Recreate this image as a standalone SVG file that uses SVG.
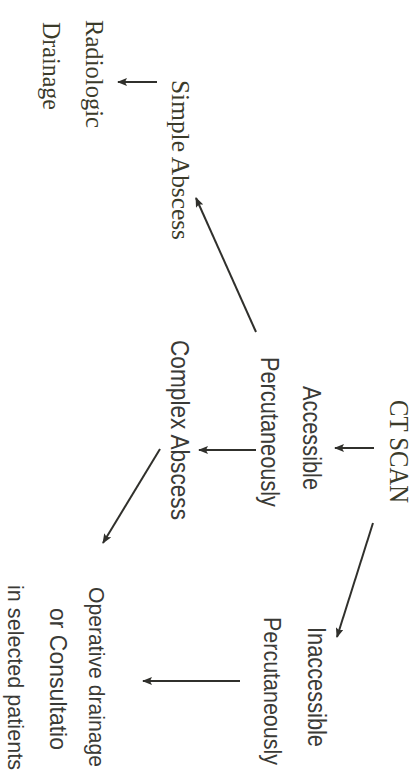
<svg xmlns="http://www.w3.org/2000/svg" width="417" height="779" viewBox="0 0 417 779">
<style>
.serif{font-family:"Liberation Serif","Times New Roman",serif;fill:#3b3b2a;}
.sans{font-family:"Liberation Sans Narrow","Liberation Sans",Arial,sans-serif;fill:#3a3a36;}
.conn line{stroke:#30302c;stroke-width:2;marker-end:url(#ah);}
</style>
<defs>
<marker id="ah" viewBox="0 0 10 8" refX="9" refY="4" markerWidth="5" markerHeight="4" markerUnits="strokeWidth" orient="auto">
<path d="M0,0 L10,4 L0,8 L2,4 Z" fill="#30302c"/>
</marker>
</defs>
<rect width="417" height="779" fill="#ffffff"/>
<g id="ctscan"><text class="serif" font-size="28" textLength="103" lengthAdjust="spacingAndGlyphs" transform="translate(390,400) rotate(90)">CT SCAN</text></g>
<g id="accessible"><text class="sans" font-size="26" textLength="104" lengthAdjust="spacingAndGlyphs" transform="translate(303,386) rotate(90)">Accessible</text></g>
<g id="percutaneously1"><text class="sans" font-size="26" textLength="150" lengthAdjust="spacingAndGlyphs" transform="translate(261,357) rotate(90)">Percutaneously</text></g>
<g id="complex"><text class="sans" font-size="25" textLength="180" lengthAdjust="spacingAndGlyphs" transform="translate(171,340) rotate(90)">Complex Abscess</text></g>
<g id="simple"><text class="serif" font-size="25" textLength="160" lengthAdjust="spacingAndGlyphs" transform="translate(172,80) rotate(90)">Simple Abscess</text></g>
<g id="radiologic"><text class="serif" font-size="26" textLength="108" lengthAdjust="spacingAndGlyphs" transform="translate(86,20) rotate(90)">Radiologic</text><text class="serif" font-size="26" textLength="88" lengthAdjust="spacingAndGlyphs" transform="translate(43,22) rotate(90)">Drainage</text></g>
<g id="inaccessible"><text class="sans" font-size="25" textLength="120" lengthAdjust="spacingAndGlyphs" transform="translate(308,627) rotate(90)">Inaccessible</text></g>
<g id="percutaneously2"><text class="sans" font-size="23" textLength="148" lengthAdjust="spacingAndGlyphs" transform="translate(264,617) rotate(90)">Percutaneously</text></g>
<g id="operative"><text class="sans" font-size="22" textLength="180" lengthAdjust="spacingAndGlyphs" transform="translate(89,587) rotate(90)">Operative drainage</text><text class="sans" font-size="24" textLength="142" lengthAdjust="spacingAndGlyphs" transform="translate(50,608) rotate(90)">or Consultatio</text><text class="sans" font-size="22" textLength="185" lengthAdjust="spacingAndGlyphs" transform="translate(8,585) rotate(90)">in selected patients</text></g>
<g id="connectors" class="conn">
<line x1="374" y1="448" x2="335" y2="448"/>
<line x1="256" y1="450" x2="199" y2="450"/>
<line x1="256" y1="332" x2="196" y2="198"/>
<line x1="160" y1="449" x2="103" y2="543"/>
<line x1="373" y1="523" x2="337" y2="637"/>
<line x1="240" y1="681" x2="143" y2="681"/>
<line x1="157" y1="82" x2="118" y2="82"/>
</g>
</svg>
